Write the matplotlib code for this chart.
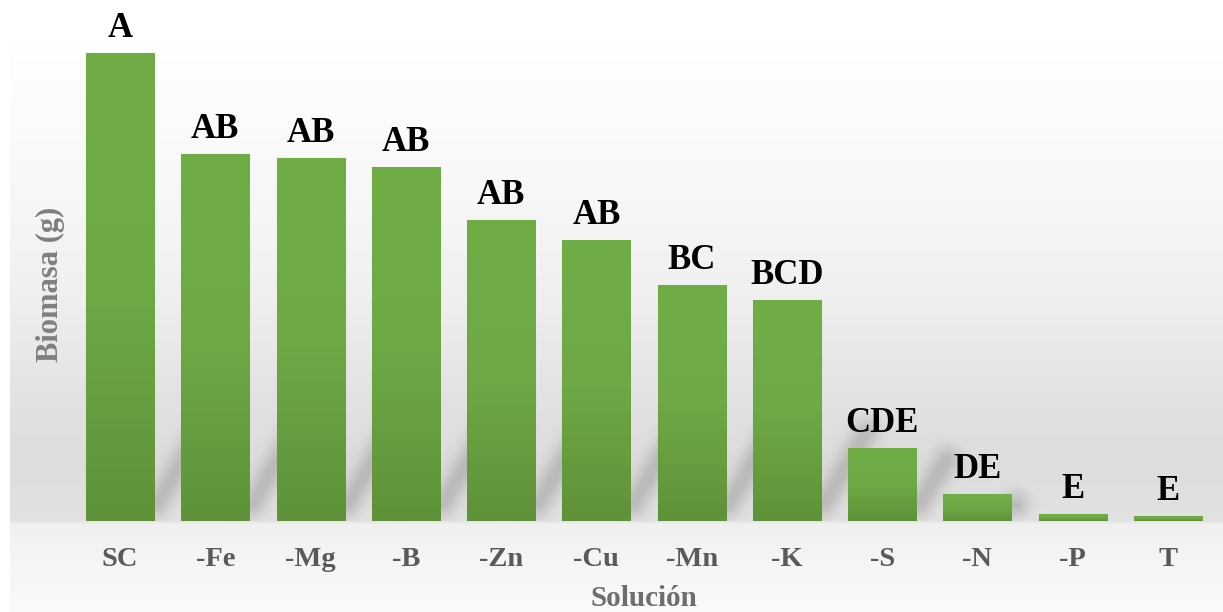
import matplotlib.pyplot as plt
import numpy as np
from matplotlib.colors import LinearSegmentedColormap

# datos (escala arbitraria, el eje y no tiene marcas)
soluciones = ['SC', '-Fe', '-Mg', '-B', '-Zn', '-Cu', '-Mn', '-K', '-S', '-N', '-P', 'T']
biomasa = [46.8, 36.7, 36.3, 35.4, 30.1, 28.1, 23.6, 22.1, 7.3, 2.7, 0.7, 0.5]
letras = ['A', 'AB', 'AB', 'AB', 'AB', 'AB', 'BC', 'BCD', 'CDE', 'DE', 'E', 'E']

W, H = 1223, 612
fig = plt.figure(figsize=(W / 100, H / 100), dpi=100)
fig.patch.set_facecolor('white')
plt.rcParams['font.family'] = ['Liberation Serif', 'DejaVu Serif']

# fondo degradado del area del grafico
bg = fig.add_axes([10 / W, 0, 1 - 10 / W, 1 - 40 / H], zorder=0)
rows = np.arange(40, H)
stops_y = [40, 200, 300, 400, 460, 520, 524, 560, 612]
stops_v = [255, 247, 239, 226, 221, 226, 240, 245, 250]
col = np.interp(rows, stops_y, stops_v) / 255.0
img = np.repeat(col[:, None], 4, axis=1)
bg.imshow(np.dstack([img, img, img]), aspect='auto', extent=[0, 1, 0, 1])
bg.axis('off')

ax = fig.add_axes([72.4 / W, 1 - 521 / H, 1143.2 / W, 500 / H], zorder=1)
ax.patch.set_visible(False)
ax.set_xlim(-0.5, len(soluciones) - 0.5)
ax.set_ylim(0, 50)

x = np.arange(len(soluciones))
ancho = 0.714

# sombras diagonales difuminadas detras de las barras
px_x = 1143.2 / len(soluciones)
px_y = 500 / 50.0
gx = np.linspace(-0.5, len(soluciones) - 0.5, 2400)
gy = np.linspace(0, 14, 300)
GX, GY = np.meshgrid(gx, gy)
alpha = np.zeros_like(GX)
for xi, h in zip(x, biomasa):
    r = xi + ancho / 2
    top = min(h, 10.0)
    if top < 1.5:
        continue
    p0 = np.array([r * px_x - 4, 0.5 * px_y])
    p1 = np.array([r * px_x + 0.55 * (top - 0.5) * px_y, top * px_y])
    d = p1 - p0
    L = np.hypot(*d)
    u = d / L
    qx = GX * px_x - p0[0]
    qy = GY * px_y - p0[1]
    t = qx * u[0] + qy * u[1]
    perp = np.abs(qx * u[1] - qy * u[0])
    along = np.clip(np.minimum(t, L - t) / 20.0 + 0.4, 0, 1)
    alpha = np.maximum(alpha, np.exp(-(perp / 13.0) ** 2) * along)
sombra = np.zeros(GX.shape + (4,))
sombra[..., :3] = 0.5
sombra[..., 3] = alpha * 0.38
ax.imshow(sombra, origin='lower', aspect='auto', zorder=1, interpolation='bilinear',
          extent=[gx[0], gx[-1], gy[0], gy[-1]])

# barras con degradado verde
verde = LinearSegmentedColormap.from_list('verde', ['#5f9239', '#6ea946', '#70ad47'])
grad = np.linspace(0, 1, 256)[:, None]
barras = ax.bar(x, biomasa, width=ancho, color='#68a040', edgecolor='#a6d08a',
                linewidth=0.8, zorder=2)
for b in barras:
    im = ax.imshow(grad, cmap=verde, origin='lower', aspect='auto', zorder=2.5,
                   interpolation='bilinear',
                   extent=[b.get_x(), b.get_x() + b.get_width(), 0, b.get_height()])
    im.set_clip_path(b)

for xi, h, txt in zip(x, biomasa, letras):
    ax.annotate(txt, (xi, h), xytext=(0, 6), textcoords='offset points',
                ha='center', va='bottom', fontsize=25, fontweight='bold',
                color='black', annotation_clip=False)

ax.set_xlim(-0.5, len(soluciones) - 0.5)
ax.set_ylim(0, 50)
ax.set_xticks(x)
ax.set_xticklabels(soluciones, fontsize=20.5, fontweight='bold', color='#595959')
ax.tick_params(axis='x', length=0, pad=19)
ax.set_yticks([])
for s in ax.spines.values():
    s.set_visible(False)

ax.set_xlabel('Solución', fontsize=21, fontweight='bold', color='#6d6d6d', labelpad=9)
fig.text(50 / W, 1 - 284 / H, 'Biomasa (g)', rotation=90, ha='center', va='center',
         fontsize=22, fontweight='bold', color='#7f7f7f')

plt.savefig('out.png', dpi=100)
